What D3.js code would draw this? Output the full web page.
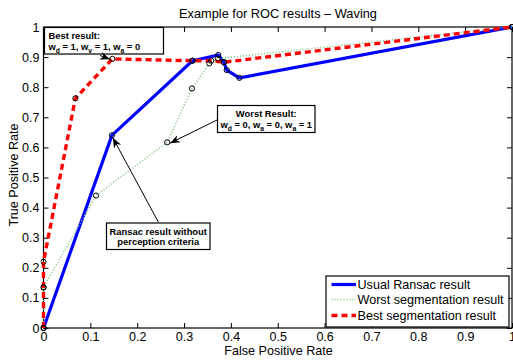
<!DOCTYPE html>
<html>
<head>
<meta charset="utf-8">
<script src="https://cdn.jsdelivr.net/npm/d3@7"></script>
<style>
  html, body { margin: 0; padding: 0; background: #fff; }
  svg { display: block; font-family: "Liberation Sans", Arial, Helvetica, sans-serif; }
</style>
</head>
<body>
<svg id="chart" width="513" height="360"></svg>
<script>
// ---- data ----
const ransacFPR = [0, 0.146, 0.318, 0.373, 0.385, 0.391, 0.418, 1];
const ransacTPR = [0, 0.640, 0.888, 0.907, 0.883, 0.857, 0.831, 1];

const worstFPR = [0, 0, 0.112, 0.264, 0.317, 0.354, 0.372, 1];
const worstTPR = [0, 0.135, 0.440, 0.617, 0.796, 0.879, 0.895, 1];

const bestFPR = [0, 0, 0, 0.068, 0.147, 0.318, 0.358, 0.385, 1];
const bestTPR = [0, 0.135, 0.220, 0.763, 0.894, 0.888, 0.888, 0.883, 1];

const xTicks = [0, 0.1, 0.2, 0.3, 0.4, 0.5, 0.6, 0.7, 0.8, 0.9, 1];
const yTicks = [0, 0.1, 0.2, 0.3, 0.4, 0.5, 0.6, 0.7, 0.8, 0.9, 1];
const tickLabels = ["0", "0.1", "0.2", "0.3", "0.4", "0.5", "0.6", "0.7", "0.8", "0.9", "1"];

const seriesNames = ["Usual Ransac result", "Worst segmentation result", "Best segmentation result"];

const titleText = "Example for ROC results \u2013 Waving";
const xLabelText = "False Positive Rate";
const yLabelText = "True Positive Rate";

const bestNoteLines = ["Best result:", "w_d = 1, w_v = 1, w_a = 0"];
const worstNoteLines = ["Worst Result:", "w_d = 0, w_a = 0, w_a = 1"];
const ransacNoteLines = ["Ransac result without", "perception criteria"];
// arrow targets (data coords) for annotations
const bestNoteTarget = [0.142, 0.893];
const worstNoteTarget = [0.27, 0.614];
const ransacNoteTarget = [0.148, 0.632];

// ---- layout ----
const svg = d3.select("#chart");
const L = 43.5, R = 512, T = 27, B = 328;
const x = d3.scaleLinear().domain([0, 1]).range([L, R]);
const y = d3.scaleLinear().domain([0, 1]).range([B, T]);

// defs: arrowhead
const defs = svg.append("defs");
defs.append("marker")
  .attr("id", "arrow").attr("viewBox", "0 0 10 10")
  .attr("refX", 10).attr("refY", 5)
  .attr("markerWidth", 10).attr("markerHeight", 10)
  .attr("markerUnits", "userSpaceOnUse")
  .attr("orient", "auto")
  .append("path").attr("d", "M0,1 L10,5 L0,9 L3,5 Z").attr("fill", "#000");

// clip
defs.append("clipPath").attr("id", "clip")
  .append("rect").attr("x", L - 3).attr("y", T - 3).attr("width", R - L + 6).attr("height", B - T + 6);

// axes with inward ticks
const fmt = (d, i) => tickLabels[i];
const tl = 5;
const gx = svg.append("g").attr("transform", `translate(0,${B})`)
  .call(d3.axisBottom(x).tickValues(xTicks).tickFormat(fmt).tickSizeInner(-tl).tickSizeOuter(0).tickPadding(4));
const gxt = svg.append("g").attr("transform", `translate(0,${T})`)
  .call(d3.axisTop(x).tickValues(xTicks).tickFormat("").tickSizeInner(-tl).tickSizeOuter(0));
const gy = svg.append("g").attr("transform", `translate(${L},0)`)
  .call(d3.axisLeft(y).tickValues(yTicks).tickFormat(fmt).tickSizeInner(-tl).tickSizeOuter(0).tickPadding(4));
const gyr = svg.append("g").attr("transform", `translate(${R},0)`)
  .call(d3.axisRight(y).tickValues(yTicks).tickFormat("").tickSizeInner(-tl).tickSizeOuter(0));
[gx, gxt, gy, gyr].forEach(g => {
  g.select(".domain").remove();
  g.selectAll(".tick line").attr("stroke", "#000").attr("stroke-width", 1);
  g.selectAll("text").attr("font-size", 12.5).attr("fill", "#000")
    .attr("font-family", "'Liberation Sans', Arial, sans-serif");
});
gx.selectAll("text").attr("dy", "0.71em");

// frame
svg.append("rect").attr("x", L).attr("y", T).attr("width", R - L).attr("height", B - T)
  .attr("fill", "none").attr("stroke", "#000").attr("stroke-width", 1.2);

// series
const series = [
  { fx: ransacFPR, ty: ransacTPR, color: "#0000ff", width: 3.2, dash: null },
  { fx: worstFPR, ty: worstTPR, color: "#7fc47f", width: 1.6, dash: "1,2" },
  { fx: bestFPR, ty: bestTPR, color: "#ff0000", width: 3.4, dash: "6,4" }
];
const line = d3.line().x(d => x(d[0])).y(d => y(d[1]));
const plotG = svg.append("g").attr("clip-path", "url(#clip)");
series.forEach(s => {
  const pts = s.fx.map((v, i) => [v, s.ty[i]]);
  plotG.append("path").datum(pts).attr("d", line)
    .attr("fill", "none").attr("stroke", s.color).attr("stroke-width", s.width)
    .attr("stroke-dasharray", s.dash).attr("stroke-linejoin", "round");
});
series.forEach(s => {
  const pts = s.fx.map((v, i) => [v, s.ty[i]]);
  plotG.selectAll(null).data(pts).enter().append("circle")
    .attr("cx", d => x(d[0])).attr("cy", d => y(d[1])).attr("r", 2.6)
    .attr("fill", "none").attr("stroke", "#000").attr("stroke-width", 1);
});

// title & labels
svg.append("text").attr("x", 278).attr("y", 17.5).attr("text-anchor", "middle")
  .attr("font-size", 12.8).text(titleText);
svg.append("text").attr("x", 278.5).attr("y", 355).attr("text-anchor", "middle")
  .attr("font-size", 12.6).text(xLabelText);
svg.append("text").attr("transform", "translate(18,175) rotate(-90)").attr("text-anchor", "middle")
  .attr("font-size", 12.6).text(yLabelText);

// helper: text with subscripts "w_d"
function richText(sel, str, fs) {
  const parts = str.split(/(_[a-z])/).filter(p => p.length);
  let pending = 0;
  parts.forEach(p => {
    if (p.startsWith("_")) {
      sel.append("tspan").attr("dy", 3 + pending).attr("font-size", fs * 0.72).text(p.slice(1));
      pending = -3;
    } else {
      sel.append("tspan").attr("dy", pending).text(p);
      pending = 0;
    }
  });
}

function note(box, lines, anchor, arrowFrom, target) {
  const fs = 9.4;
  const g = svg.append("g");
  g.append("rect").attr("x", box[0]).attr("y", box[1]).attr("width", box[2] - box[0]).attr("height", box[3] - box[1])
    .attr("fill", "#fff").attr("stroke", "#000").attr("stroke-width", 1.2);
  const tx = anchor === "start" ? box[0] + 4 : (box[0] + box[2]) / 2;
  lines.forEach((ln, i) => {
    const t = g.append("text").attr("x", tx).attr("y", box[1] + 11.5 + i * 10.5)
      .attr("text-anchor", anchor).attr("font-size", fs).attr("font-weight", "bold");
    richText(t, ln, fs);
  });
  svg.append("line").attr("x1", arrowFrom[0]).attr("y1", arrowFrom[1])
    .attr("x2", x(target[0])).attr("y2", y(target[1]))
    .attr("stroke", "#000").attr("stroke-width", 1).attr("marker-end", "url(#arrow)");
}

note([44.5, 27.5, 163.5, 54], bestNoteLines, "start", [100, 55.5], bestNoteTarget);
note([217.5, 105.5, 315, 132.5], worstNoteLines, "middle", [217, 120], worstNoteTarget);
note([106.5, 223, 210, 249.5], ransacNoteLines, "middle", [158.3, 222], ransacNoteTarget);

// legend
const lg = svg.append("g");
lg.append("rect").attr("x", 326).attr("y", 276).attr("width", 183).attr("height", 51)
  .attr("fill", "#fff").attr("stroke", "#000").attr("stroke-width", 1.2);
const legY = [284.5, 299.5, 315.5];
series.forEach((s, i) => {
  lg.append("line").attr("x1", 331.5).attr("x2", 356).attr("y1", legY[i]).attr("y2", legY[i])
    .attr("stroke", s.color).attr("stroke-width", s.width).attr("stroke-dasharray", s.dash);
  lg.append("text").attr("x", 357.5).attr("y", legY[i] + 4.5).attr("font-size", 12.6).text(seriesNames[i]);
});
</script>
</body>
</html>
